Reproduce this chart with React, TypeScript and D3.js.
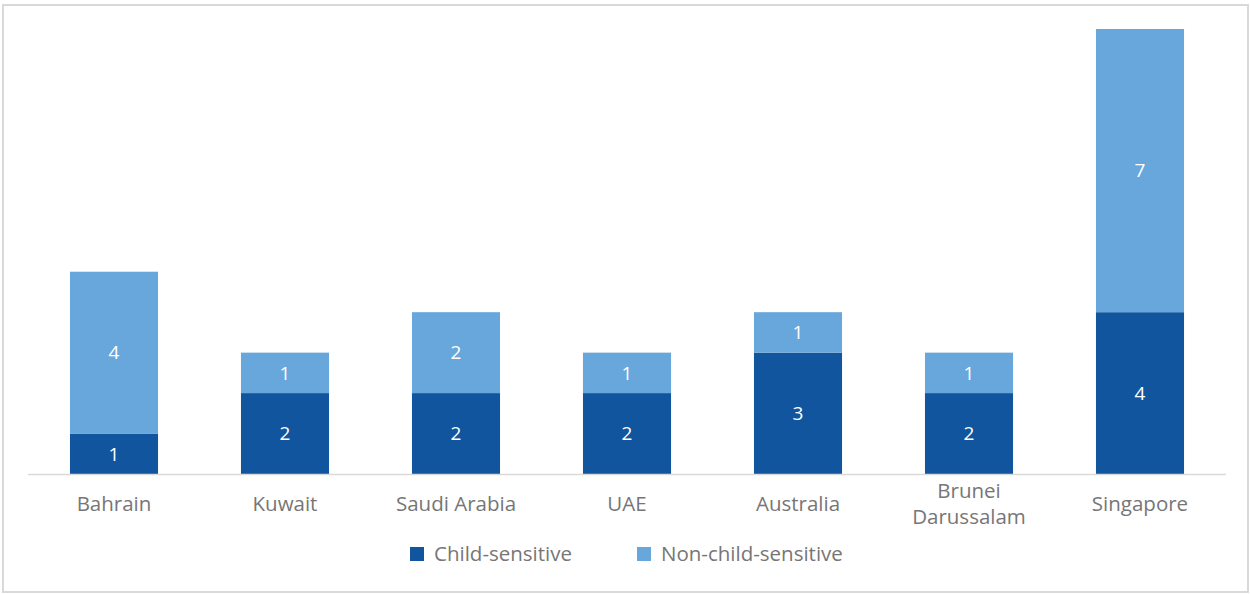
import React from "react";
import * as d3 from "d3";

const categories = ["Bahrain", "Kuwait", "Saudi Arabia", "UAE", "Australia", "Brunei Darussalam", "Singapore"];
const categoryLines = [["Bahrain"], ["Kuwait"], ["Saudi Arabia"], ["UAE"], ["Australia"], ["Brunei", "Darussalam"], ["Singapore"]];
const childSensitive = [1, 2, 2, 2, 3, 2, 4];
const nonChildSensitive = [4, 1, 2, 1, 1, 1, 7];
const seriesNames = ["Child-sensitive", "Non-child-sensitive"];
const seriesColors = ["#11559f", "#68a7db"];

const W = 1250;
const H = 594;
const FONT = "'Open Sans', sans-serif";

export default function App() {
  const x = d3.scaleBand<string>().domain(categories).range([28.5, 1225.5]).paddingInner(0.485).paddingOuter(0.2425);
  const y = d3.scaleLinear().domain([0, 11]).range([474, 29]);
  const stackData = categories.map((c, i) => ({ cat: c, a: childSensitive[i], b: nonChildSensitive[i] }));
  const stack = d3.stack<any>().keys(["a", "b"])(stackData);

  return (
    <svg width={W} height={H} style={{ display: "block", position: "absolute", left: 0, top: 0 }}>
      <rect x={0} y={0} width={W} height={H} fill="#fff" />
      <rect x={3} y={5} width={1245} height={587} fill="none" stroke="#d9d9d9" strokeWidth={2} />
      {stack.map((layer, si) => (
        <g key={si}>
          {layer.map((d, i) => {
            const x0 = x(categories[i])!;
            const y0 = y(d[1]);
            const h = y(d[0]) - y(d[1]);
            return (
              <g key={i}>
                <rect x={x0} y={y0} width={x.bandwidth()} height={h} fill={seriesColors[si]} />
                <text x={x0 + x.bandwidth() / 2} y={y0 + h / 2} dy="0.36em" textAnchor="middle" fill="#fff" fontFamily={FONT} fontSize={19}>
                  {d[1] - d[0]}
                </text>
              </g>
            );
          })}
        </g>
      ))}
      <line x1={28} x2={1226} y1={474.5} y2={474.5} stroke="#d9d9d9" strokeWidth={1.5} />
      {categoryLines.map((lines, i) => {
        const cx = x(categories[i])! + x.bandwidth() / 2;
        return (
          <text key={i} x={cx} y={lines.length > 1 ? 498 : 511} textAnchor="middle" fill="#767676" fontFamily={FONT} fontSize={20.5}>
            {lines.map((l, j) => (
              <tspan key={j} x={cx} dy={j === 0 ? 0 : 26}>{l}</tspan>
            ))}
          </text>
        );
      })}
      {seriesNames.map((n, i) => {
        const lx = i === 0 ? 410 : 637;
        return (
          <g key={n}>
            <rect x={lx} y={547} width={14} height={14} fill={seriesColors[i]} />
            <text x={lx + 24} y={561} fill="#767676" fontFamily={FONT} fontSize={20.5}>{n}</text>
          </g>
        );
      })}
    </svg>
  );
}
